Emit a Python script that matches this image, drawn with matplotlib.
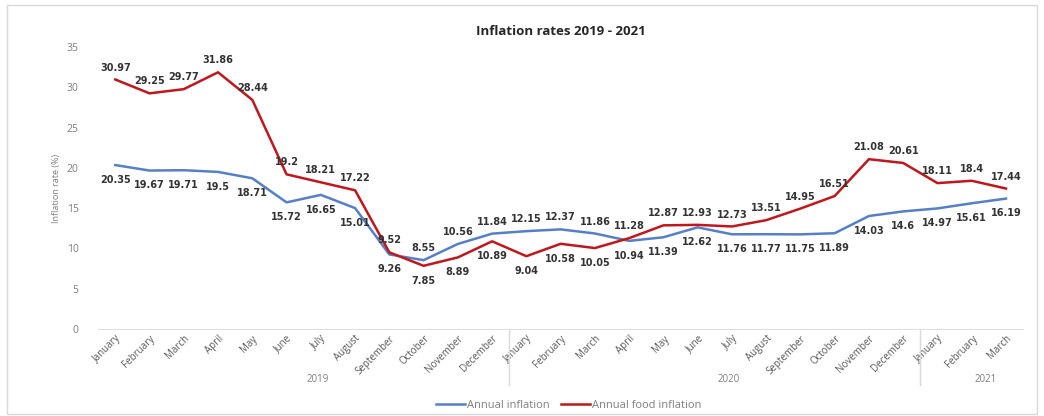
import numpy as np
import matplotlib.pyplot as plt
from matplotlib.transforms import blended_transform_factory
from matplotlib.patches import Rectangle

months = ['January', 'February', 'March', 'April', 'May', 'June', 'July',
          'August', 'September', 'October', 'November', 'December',
          'January', 'February', 'March', 'April', 'May', 'June', 'July',
          'August', 'September', 'October', 'November', 'December',
          'January', 'February', 'March']
years = ['2019', '2020', '2021']
year_sizes = [12, 12, 3]

annual_inflation = [20.35, 19.67, 19.71, 19.5, 18.71, 15.72, 16.65, 15.01,
                    9.26, 8.55, 10.56, 11.84,
                    12.15, 12.37, 11.86, 10.94, 11.39, 12.62, 11.76, 11.77,
                    11.75, 11.89, 14.03, 14.6,
                    14.97, 15.61, 16.19]
food_inflation = [30.97, 29.25, 29.77, 31.86, 28.44, 19.2, 18.21, 17.22,
                  9.52, 7.85, 8.89, 10.89,
                  9.04, 10.58, 10.05, 11.28, 12.87, 12.93, 12.73, 13.51,
                  14.95, 16.51, 21.08, 20.61,
                  18.11, 18.4, 17.44]

plt.rcParams['font.family'] = ['Open Sans', 'DejaVu Sans']

blue = '#5580c8'
red = '#c0161c'
grey = '#7f7f7f'

fig = plt.figure(figsize=(10.44, 4.16), dpi=100)
ax = fig.add_axes([0.094, 0.209, 0.886, 0.678])

x = np.arange(len(months))
ax.plot(x, annual_inflation, color=blue, lw=1.8, label='Annual inflation')
ax.plot(x, food_inflation, color=red, lw=1.8, label='Annual food inflation')

# higher series gets its label above, lower one below
for i in range(len(x)):
    a, f = annual_inflation[i], food_inflation[i]
    for v, hi in ((a, a >= f), (f, f > a)):
        ax.annotate(f'{v:g}', (x[i], v), xytext=(0, 5 if hi else -7),
                    textcoords='offset points', ha='center',
                    va='bottom' if hi else 'top', fontsize=7,
                    fontweight='bold', color='#333333',
                    family='DejaVu Sans')

ax.set_xlim(-0.5, len(x) - 0.5)
ax.set_ylim(0, 35)
ax.set_yticks(range(0, 36, 5))
ax.set_xticks(x)
ax.set_xticklabels(months, rotation=45, ha='right', rotation_mode='anchor',
                   fontsize=7, color='#595959')
ax.tick_params(axis='y', labelsize=7.5, colors=grey, length=0, pad=14)
ax.tick_params(axis='x', length=0, pad=3)
for s in ['top', 'right', 'left']:
    ax.spines[s].set_visible(False)
ax.spines['bottom'].set_color('#e0e0e0')

ax.set_ylabel('Inflation rate (%)', fontsize=6.5, color=grey, labelpad=4)
ax.set_title('Inflation rates 2019 - 2021', fontsize=9.5, fontweight='bold',
             color='#262626', pad=9)

# year groups under the month labels
trans = blended_transform_factory(ax.transData, ax.transAxes)
start = 0
for yr, n in zip(years, year_sizes):
    ax.text(start + (n - 1) / 2 + 0.4, -0.18, yr, transform=trans,
            ha='center', va='center', fontsize=7, color=grey)
    if start > 0:
        ax.plot([start - 0.5, start - 0.5], [0, -0.2], transform=trans,
                color='#d9d9d9', lw=1, clip_on=False)
    start += n

fig.legend(loc='lower center', bbox_to_anchor=(0.545, -0.012), ncol=2,
           frameon=False, fontsize=8, handlelength=2.6, columnspacing=1,
           handletextpad=0.2, labelcolor=grey)

fig.patches.append(Rectangle((0.007, 0.004), 0.986, 0.984, fill=False,
                             edgecolor='#d9d9d9', lw=1,
                             transform=fig.transFigure))

fig.savefig('out.png', dpi=100)
